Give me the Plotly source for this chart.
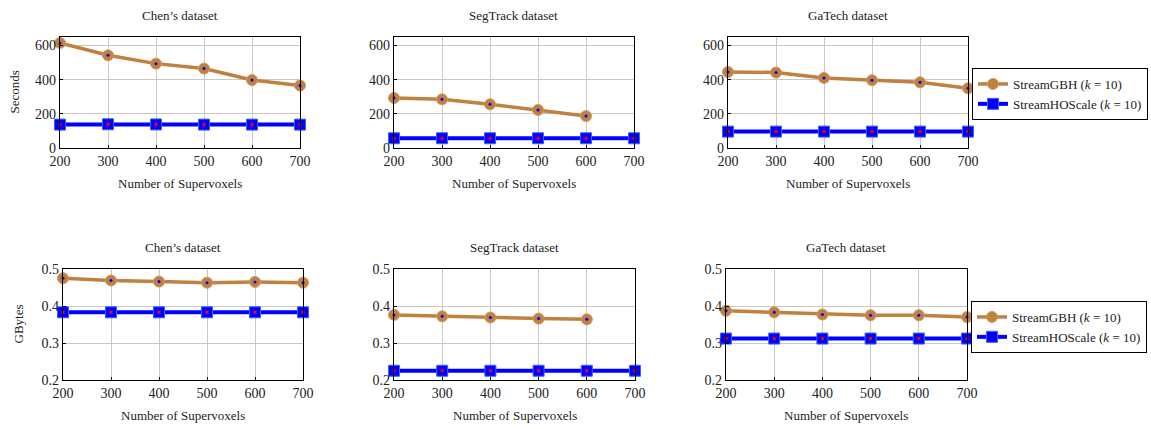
import plotly.graph_objects as go

W, H = 1151, 429

supervoxels = [200, 300, 400, 500, 600, 700]
datasets = ["Chen’s dataset", "SegTrack dataset", "GaTech dataset"]

# Seconds (top row)
sec_gbh_chen = [615, 543, 494, 465, 398, 366]
sec_hos_chen = [137, 139, 138, 137, 137, 137]
sec_gbh_segtrack = [293, 285, 256, 223, 187]
sec_hos_segtrack = [57, 57, 57, 57, 57, 57]
sec_gbh_gatech = [445, 442, 410, 397, 385, 350]
sec_hos_gatech = [96, 96, 96, 96, 96, 96]

# GBytes (bottom row)
gb_gbh_chen = [0.475, 0.469, 0.466, 0.463, 0.465, 0.463]
gb_hos_chen = [0.383, 0.383, 0.383, 0.383, 0.383, 0.383]
gb_gbh_segtrack = [0.376, 0.372, 0.369, 0.366, 0.364]
gb_hos_segtrack = [0.225, 0.225, 0.225, 0.225, 0.225, 0.225]
gb_gbh_gatech = [0.387, 0.383, 0.377, 0.375, 0.375, 0.370]
gb_hos_gatech = [0.312, 0.312, 0.312, 0.312, 0.312, 0.312]

sec_ticks = [0, 200, 400, 600]
gb_ticks = [0.2, 0.3, 0.4, 0.5]
gb_ticktext = ["0.2", "0.3", "0.4", "0.5"]

rows = [
    dict(gbh=[sec_gbh_chen, sec_gbh_segtrack, sec_gbh_gatech],
         hos=[sec_hos_chen, sec_hos_segtrack, sec_hos_gatech],
         yrange=[0, 650], ticks=sec_ticks, ticktext=[str(t) for t in sec_ticks],
         ylabel="Seconds", top=37, bottom=148,
         xpix=[(60, 300), (394, 634), (728, 968)], legend="legend"),
    dict(gbh=[gb_gbh_chen, gb_gbh_segtrack, gb_gbh_gatech],
         hos=[gb_hos_chen, gb_hos_segtrack, gb_hos_gatech],
         yrange=[0.2, 0.5], ticks=gb_ticks, ticktext=gb_ticktext,
         ylabel="GBytes", top=269, bottom=380,
         xpix=[(63, 303), (394, 635), (726, 967)], legend="legend2"),
]

BROWN = "#bf8040"
BLUE = "#0000ff"
FONT = "Liberation Serif"

fig = go.Figure()
annotations = []
layout = {}
idx = 0
for r, row in enumerate(rows):
    ydom = [1 - row["bottom"] / H, 1 - row["top"] / H]
    for c in range(3):
        idx += 1
        xa = "x" if idx == 1 else f"x{idx}"
        ya = "y" if idx == 1 else f"y{idx}"
        x0, x1 = row["xpix"][c]
        xdom = [x0 / W, x1 / W]
        axis_common = dict(showgrid=True, gridcolor="#c8c8c8", gridwidth=1,
                           showline=True, linecolor="black", linewidth=1.3,
                           mirror=True, ticks="inside", ticklen=3,
                           tickcolor="black", zeroline=False, automargin=False,
                           tickfont=dict(family=FONT, size=14, color="#222"))
        layout["xaxis" if idx == 1 else f"xaxis{idx}"] = dict(
            domain=xdom, range=[200, 700], tickvals=supervoxels,
            anchor=ya, **axis_common)
        layout["yaxis" if idx == 1 else f"yaxis{idx}"] = dict(
            domain=ydom, range=row["yrange"], tickvals=row["ticks"],
            ticktext=row["ticktext"], anchor=xa, **axis_common)

        gbh = row["gbh"][c]
        hos = row["hos"][c]
        show = (c == 2)
        fig.add_trace(go.Scatter(
            x=supervoxels[:len(gbh)], y=gbh, xaxis=xa, yaxis=ya,
            mode="lines+markers", name="StreamGBH (<i>k</i> = 10)",
            line=dict(color=BROWN, width=3.5),
            marker=dict(symbol="circle", size=11, color=BROWN,
                        line=dict(width=1, color="#d09a60")),
            showlegend=show, legend=row["legend"], cliponaxis=False))
        fig.add_trace(go.Scatter(
            x=supervoxels[:len(gbh)], y=gbh, xaxis=xa, yaxis=ya,
            mode="markers", marker=dict(symbol="circle", size=3, color=BLUE),
            showlegend=False, cliponaxis=False, hoverinfo="skip"))
        fig.add_trace(go.Scatter(
            x=supervoxels[:len(hos)], y=hos, xaxis=xa, yaxis=ya,
            mode="lines+markers", name="StreamHOScale (<i>k</i> = 10)",
            line=dict(color=BLUE, width=4),
            marker=dict(symbol="square", size=11, color=BLUE,
                        line=dict(width=1, color="#4060ff")),
            showlegend=show, legend=row["legend"], cliponaxis=False))
        fig.add_trace(go.Scatter(
            x=supervoxels[:len(hos)], y=hos, xaxis=xa, yaxis=ya,
            mode="markers", marker=dict(symbol="square", size=3, color="#ff0000"),
            showlegend=False, cliponaxis=False, hoverinfo="skip"))

        # subplot title
        annotations.append(dict(
            text=datasets[c], x=(xdom[0] + xdom[1]) / 2,
            y=1 - (row["top"] - 21) / H, xref="paper", yref="paper",
            xanchor="center", yanchor="middle", showarrow=False,
            font=dict(family=FONT, size=13, color="#222")))
        # x-axis title
        annotations.append(dict(
            text="Number of Supervoxels", x=(xdom[0] + xdom[1]) / 2,
            y=1 - (row["bottom"] + 35) / H, xref="paper", yref="paper",
            xanchor="center", yanchor="middle", showarrow=False,
            font=dict(family=FONT, size=13, color="#222")))
    # y-axis title
    annotations.append(dict(
        text=row["ylabel"], x=(14 if r == 0 else 18) / W,
        y=1 - ((row["top"] + row["bottom"]) / 2) / H,
        xref="paper", yref="paper", xanchor="center", yanchor="middle",
        textangle=-90, showarrow=False,
        font=dict(family=FONT, size=13, color="#222")))

legend_style = dict(xanchor="left", yanchor="top", bordercolor="black",
                    borderwidth=1, bgcolor="white",
                    font=dict(family=FONT, size=13, color="#222"),
                    tracegroupgap=0, itemwidth=30)

fig.update_layout(
    width=W, height=H, margin=dict(l=0, r=0, t=0, b=0, autoexpand=False),
    plot_bgcolor="white", paper_bgcolor="white",
    annotations=annotations,
    legend=dict(x=972 / W, y=1 - 68 / H, **legend_style),
    legend2=dict(x=971 / W, y=1 - 301 / H, **legend_style),
    **layout)

fig.write_html("out.html", config={"displayModeBar": False},
               post_script="document.body.style.margin='0';")
